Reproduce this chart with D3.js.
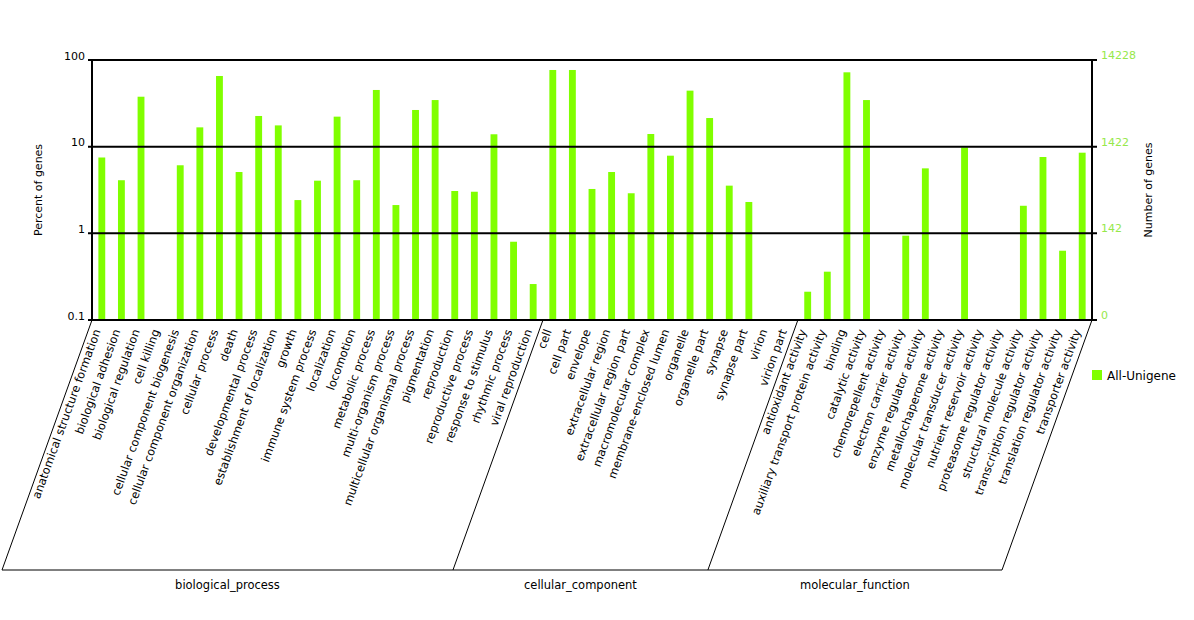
<!DOCTYPE html>
<html>
<head>
<meta charset="utf-8">
<script src="https://cdn.jsdelivr.net/npm/d3@7"></script>
<style>
  body { margin: 0; background: #fff; }
  svg { display: block; font-family: "DejaVu Sans", Verdana, sans-serif; }
</style>
</head>
<body>
<div id="chart"></div>
<script>
// GO annotation chart (WEGO style) - percent of genes per GO term, log scale
const groups = ["biological_process", "cellular_component", "molecular_function"];

const bioTerms = ["anatomical structure formation", "biological adhesion", "biological regulation",
  "cell killing", "cellular component biogenesis", "cellular component organization",
  "cellular process", "death", "developmental process", "establishment of localization",
  "growth", "immune system process", "localization", "locomotion", "metabolic process",
  "multi-organism process", "multicellular organismal process", "pigmentation",
  "reproduction", "reproductive process", "response to stimulus", "rhythmic process",
  "viral reproduction"];
const bioPercent = [7.5, 4.1, 37.7, null, 6.1, 16.7, 65.4, 5.1, 22.6, 17.6,
  2.42, 4.05, 22.2, 4.1, 45.1, 2.12, 26.5, 34.5, 3.08, 3.02, 13.9, 0.80, 0.26];

const ccTerms = ["cell", "cell part", "envelope", "extracellular region", "extracellular region part",
  "macromolecular complex", "membrane-enclosed lumen", "organelle", "organelle part",
  "synapse", "synapse part", "virion", "virion part"];
const ccPercent = [76.7, 76.7, 3.25, 5.1, 2.9, 14.0, 7.87, 44.3, 21.4, 3.55, 2.30, null, null];

const mfTerms = ["antioxidant activity", "auxiliary transport protein activity", "binding",
  "catalytic activity", "chemorepellent activity", "electron carrier activity",
  "enzyme regulator activity", "metallochaperone activity", "molecular transducer activity",
  "nutrient reservoir activity", "proteasome regulator activity", "structural molecule activity",
  "transcription regulator activity", "translation regulator activity", "transporter activity"];
const mfPercent = [0.212, 0.361, 72.1, 34.5, null, 0.94, 5.62, null, 9.8, null, null, 2.08, 7.6, 0.63, 8.52];

const leftTicks = [100, 10, 1, 0.1];
const leftTickLabels = ["100", "10", "1", "0.1"];
const rightTickLabels = ["14228", "1422", "142", "0"];
const seriesName = "All-Unigene";

const barColor = "#80ff00";
const rightColor = "#96e84a";

const W = 1194, H = 620;
const plot = { left: 92, right: 1092, top: 60, bottom: 320 };
const slantDx = -90, slantBottom = 570;

const rows = [];
[bioTerms, ccTerms, mfTerms].forEach((terms, g) => {
  const vals = [bioPercent, ccPercent, mfPercent][g];
  terms.forEach((t, i) => rows.push({ term: t, group: groups[g], value: vals[i] }));
});

const svg = d3.select("#chart").append("svg")
  .attr("width", W).attr("height", H);

const x = d3.scaleBand()
  .domain(rows.map(d => d.term))
  .range([plot.left, plot.right])
  .paddingInner(0.65)
  .paddingOuter(0.325);

const y = d3.scaleLog()
  .domain([0.1, 100])
  .range([plot.bottom, plot.top]);

// bars
svg.append("g").selectAll("rect")
  .data(rows.filter(d => d.value != null))
  .join("rect")
  .attr("x", d => x(d.term))
  .attr("width", x.bandwidth())
  .attr("y", d => y(d.value))
  .attr("height", d => plot.bottom - y(d.value))
  .attr("fill", barColor);

// grid lines + axes frame
const frame = svg.append("g").attr("stroke", "#000").attr("stroke-width", 2);
leftTicks.forEach(t => {
  frame.append("line")
    .attr("x1", plot.left - 4).attr("x2", plot.right + 5)
    .attr("y1", y(t)).attr("y2", y(t));
});
frame.append("line").attr("x1", plot.left).attr("x2", plot.left)
  .attr("y1", plot.top - 1).attr("y2", plot.bottom + 1);
frame.append("line").attr("x1", plot.right).attr("x2", plot.right)
  .attr("y1", plot.top - 1).attr("y2", plot.bottom + 1);

// left tick labels
svg.append("g").selectAll("text")
  .data(leftTicks)
  .join("text")
  .attr("x", plot.left - 7)
  .attr("y", d => y(d) - 0.5)
  .attr("text-anchor", "end")
  .attr("font-size", 11)
  .attr("fill", "#000")
  .text((d, i) => leftTickLabels[i]);

// right tick labels
svg.append("g").selectAll("text")
  .data(leftTicks)
  .join("text")
  .attr("x", plot.right + 9)
  .attr("y", d => y(d) - 1)
  .attr("font-size", 11)
  .attr("fill", rightColor)
  .text((d, i) => rightTickLabels[i]);

// axis titles
svg.append("text")
  .attr("transform", `translate(42,${(plot.top + plot.bottom) / 2}) rotate(-90)`)
  .attr("text-anchor", "middle")
  .attr("font-size", 11)
  .text("Percent of genes");
svg.append("text")
  .attr("transform", `translate(1152,${(plot.top + plot.bottom) / 2}) rotate(-90)`)
  .attr("text-anchor", "middle")
  .attr("font-size", 11)
  .text("Number of genes");

// category labels
svg.append("g").selectAll("text")
  .data(rows)
  .join("text")
  .attr("transform", d => `translate(${x(d.term) + x.bandwidth() / 2 - 1},${plot.bottom + 11}) rotate(-70)`)
  .attr("text-anchor", "end")
  .attr("font-size", 11.5)
  .attr("fill", "#000")
  .text(d => d.term);

// group brackets
const counts = [bioTerms.length, ccTerms.length, mfTerms.length];
const bounds = [plot.left];
counts.forEach(c => bounds.push(bounds[bounds.length - 1] + c * x.step()));
const br = svg.append("g").attr("stroke", "#000").attr("stroke-width", 1).attr("fill", "none");
bounds.forEach(b => {
  br.append("line").attr("x1", b).attr("y1", plot.bottom)
    .attr("x2", b + slantDx).attr("y2", slantBottom);
});
br.append("line").attr("x1", bounds[0] + slantDx).attr("x2", bounds[3] + slantDx)
  .attr("y1", slantBottom).attr("y2", slantBottom);

svg.append("g").selectAll("text")
  .data(groups)
  .join("text")
  .attr("x", (d, i) => (bounds[i] + bounds[i + 1]) / 2 + slantDx)
  .attr("y", slantBottom + 19)
  .attr("text-anchor", "middle")
  .attr("font-size", 11.5)
  .text(d => d);

// legend
svg.append("rect")
  .attr("x", plot.right).attr("y", 370)
  .attr("width", 10).attr("height", 10)
  .attr("fill", barColor);
svg.append("text")
  .attr("x", plot.right + 15).attr("y", 380)
  .attr("font-size", 12)
  .text(seriesName);
</script>
</body>
</html>
